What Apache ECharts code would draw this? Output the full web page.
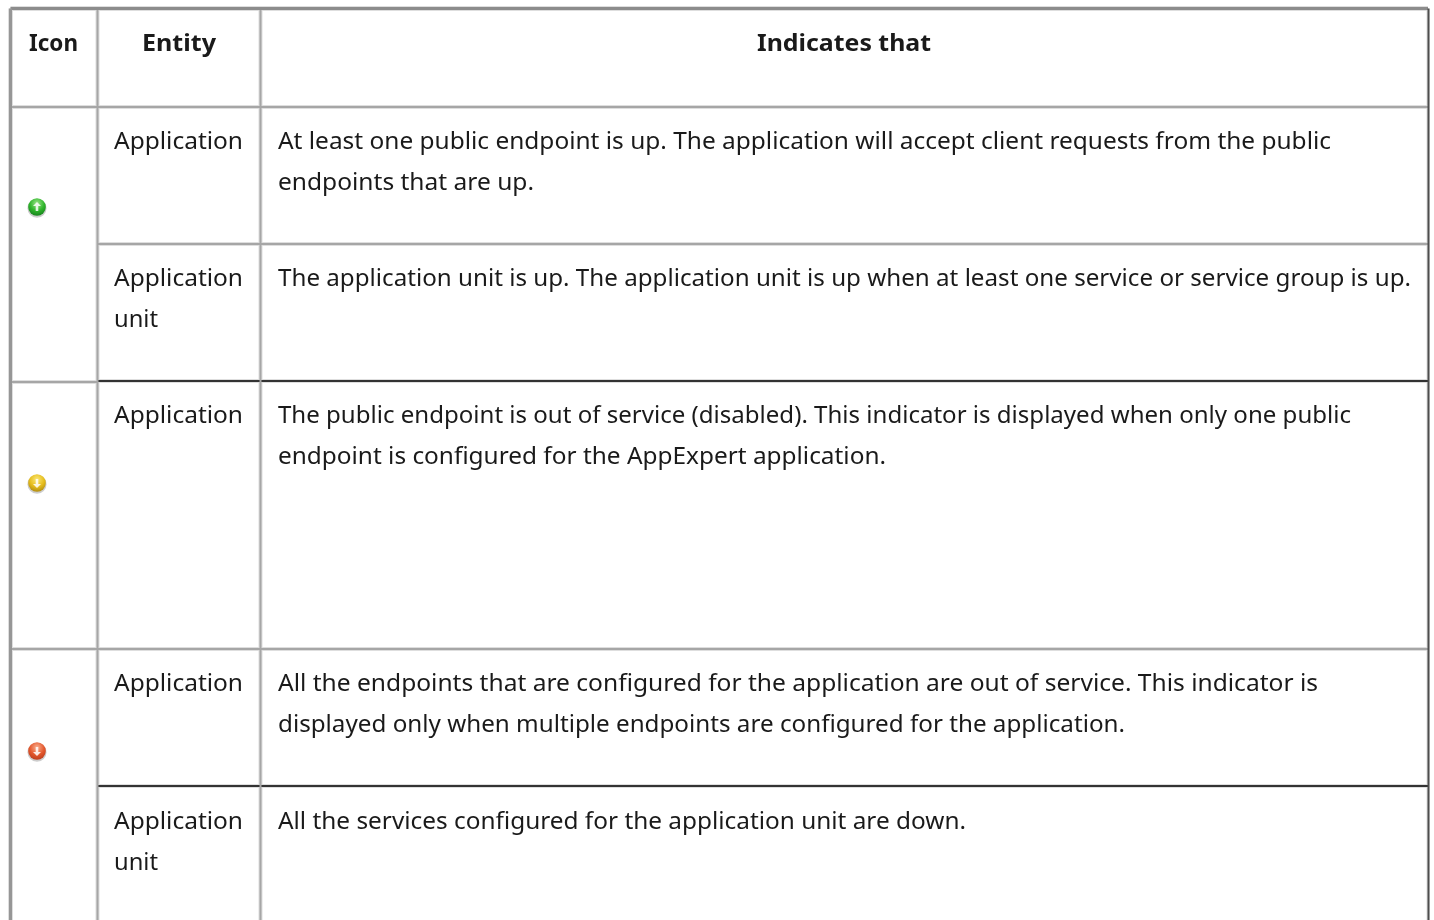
<!DOCTYPE html>
<html>
<head>
<meta charset="utf-8">
<style>
  html, body { margin: 0; padding: 0; background: #fff; }
  #chart { width: 1434px; height: 920px; }
</style>
</head>
<body>
<div id="chart"></div>
<script src="https://cdn.jsdelivr.net/npm/echarts@6/dist/echarts.min.js"></script>
<script>
const headers = ['Icon', 'Entity', 'Indicates that']
const statuses = ['up', 'outOfService', 'down']
const entities = [
  ['Application'],
  ['Application', 'unit'],
  ['Application'],
  ['Application'],
  ['Application', 'unit'],
]
const descriptions = [
  ['At least one public endpoint is up. The application will accept client requests from the public', 'endpoints that are up.'],
  ['The application unit is up. The application unit is up when at least one service or service group is up.'],
  ['The public endpoint is out of service (disabled). This indicator is displayed when only one public', 'endpoint is configured for the AppExpert application.'],
  ['All the endpoints that are configured for the application are out of service. This indicator is', 'displayed only when multiple endpoints are configured for the application.'],
  ['All the services configured for the application unit are down.'],
]

// layout of the table, in page pixels
const COL_X = [10.5, 97.5, 260.5, 1428]
const ROW_Y = [8.5, 107, 244, 381, 649, 786, 920]
const ROW_LINE_1 = [142.5, 279.5, 416.5, 684.5, 822.5]
const LINE_H = 41
const HEADER_Y = 44
const ENTITY_X = 114
const DESC_X = 278
// right edge of each line as measured on the page, the fallback font runs a bit narrower
const HEADER_SPAN = [[29, 78], [142, 216], [757, 931]]
const ENTITY_RIGHT = [[243], [243, 158], [243], [243], [243, 158]]
const DESC_RIGHT = [[1331, 534], [1411], [1351, 886], [1318, 1125], [966]]
const ICON_X = 37
const ICON_Y = { up: 207, outOfService: 483, down: 751 }
const ICON_COLORS = {
  up: ['#9be58a', '#2fb52b', '#137a1c'],
  outOfService: ['#fbe878', '#e6bd1c', '#a98510'],
  down: ['#f9b090', '#e4572c', '#b53a1c'],
}
const FONT_SIZE = 24
const FONT = `${FONT_SIZE}px "Noto Sans", sans-serif`
const FONT_BOLD = `bold ${FONT}`
const TEXT_COLOR = '#1a1a1a'

const GRID = '#a6a6a6'
const HALO = '#dedede'
const DARK = '#333'

const measure = document.createElement('canvas').getContext('2d')
function textWidth(text, font) {
  measure.font = font
  return measure.measureText(text).width
}

function hLine(x1, x2, y, color, w) {
  return { type: 'line', shape: { x1, y1: y, x2, y2: y }, style: { stroke: color, lineWidth: w } }
}
function vLine(x, y1, y2, color, w) {
  return { type: 'line', shape: { x1: x, y1, x2: x, y2 }, style: { stroke: color, lineWidth: w } }
}
function label(text, left, right, y, font) {
  return {
    type: 'text', x: left, y, scaleX: (right - left) / textWidth(text, font),
    style: { text, fill: TEXT_COLOR, align: 'left', verticalAlign: 'middle', font },
  }
}
function icon(status) {
  const c = ICON_COLORS[status]
  const y = ICON_Y[status]
  const dir = status === 'up' ? -1 : 1
  return [
    {
      type: 'circle', shape: { cx: ICON_X, cy: y + 1.2, r: 9.5 },
      style: { fill: 'rgba(90,90,90,0.3)' },
    },
    {
      type: 'circle', shape: { cx: ICON_X, cy: y, r: 8.8 },
      style: {
        fill: new echarts.graphic.RadialGradient(0.5, 0.3, 0.75, [
          { offset: 0, color: c[0] }, { offset: 0.55, color: c[1] }, { offset: 1, color: c[2] },
        ]),
      },
    },
    {
      type: 'polygon',
      shape: { points: [
        [ICON_X, y + dir * 5], [ICON_X + 4, y + dir * 1], [ICON_X + 1.3, y + dir * 1], [ICON_X + 1.3, y - dir * 4],
        [ICON_X - 1.3, y - dir * 4], [ICON_X - 1.3, y + dir * 1], [ICON_X - 4, y + dir * 1],
      ] },
      style: { fill: '#fff', opacity: 0.85 },
    },
  ]
}

const elements = []
const RIGHT = COL_X[3]

// soft edges under the rules
;[COL_X[1], COL_X[2]].forEach(x => elements.push(vLine(x, ROW_Y[0], 920, HALO, 4)))
elements.push(vLine(COL_X[0], ROW_Y[0], 920, HALO, 5))
elements.push(vLine(RIGHT, ROW_Y[0], 920, HALO, 3))
elements.push(hLine(COL_X[0], RIGHT, ROW_Y[0], HALO, 5))
elements.push(hLine(COL_X[0], RIGHT, ROW_Y[1], HALO, 4))
elements.push(hLine(COL_X[1], RIGHT, ROW_Y[2], HALO, 4))
elements.push(hLine(COL_X[0], COL_X[1], ROW_Y[3] + 1, HALO, 4))
elements.push(hLine(COL_X[1], RIGHT, ROW_Y[3], HALO, 4))
elements.push(hLine(COL_X[0], RIGHT, ROW_Y[4], HALO, 4))
elements.push(hLine(COL_X[1], RIGHT, ROW_Y[5], HALO, 4))

// grid lines
elements.push(hLine(COL_X[0], RIGHT, ROW_Y[1], GRID, 2))
elements.push(hLine(COL_X[1], RIGHT, ROW_Y[2], GRID, 2))
elements.push(hLine(COL_X[0], COL_X[1], ROW_Y[3] + 1, GRID, 2))
elements.push(hLine(COL_X[1], RIGHT, ROW_Y[3], DARK, 2))
elements.push(hLine(COL_X[0], RIGHT, ROW_Y[4], GRID, 2))
elements.push(hLine(COL_X[1], RIGHT, ROW_Y[5], DARK, 2))
elements.push(vLine(COL_X[1], ROW_Y[0], 920, GRID, 2))
elements.push(vLine(COL_X[2], ROW_Y[0], 920, GRID, 2))
elements.push(hLine(COL_X[0], RIGHT, ROW_Y[0], '#8c8c8c', 3))
elements.push(vLine(COL_X[0], ROW_Y[0], 920, '#969696', 3))
elements.push(vLine(RIGHT + 0.5, ROW_Y[0], 920, '#4d4d4d', 2))

// header row
headers.forEach((h, i) => {
  elements.push(label(h, HEADER_SPAN[i][0], HEADER_SPAN[i][1], HEADER_Y, FONT_BOLD))
})

// body rows
entities.forEach((lines, r) => {
  lines.forEach((t, i) => elements.push(label(t, ENTITY_X, ENTITY_RIGHT[r][i], ROW_LINE_1[r] + i * LINE_H, FONT)))
  descriptions[r].forEach((t, i) => elements.push(label(t, DESC_X, DESC_RIGHT[r][i], ROW_LINE_1[r] + i * LINE_H, FONT)))
})

statuses.forEach(s => elements.push(...icon(s)))

const chart = echarts.init(document.getElementById('chart'))
chart.setOption({
  backgroundColor: '#fff',
  animation: false,
  graphic: { elements },
})
window.addEventListener('resize', () => chart.resize())
</script>
</body>
</html>
